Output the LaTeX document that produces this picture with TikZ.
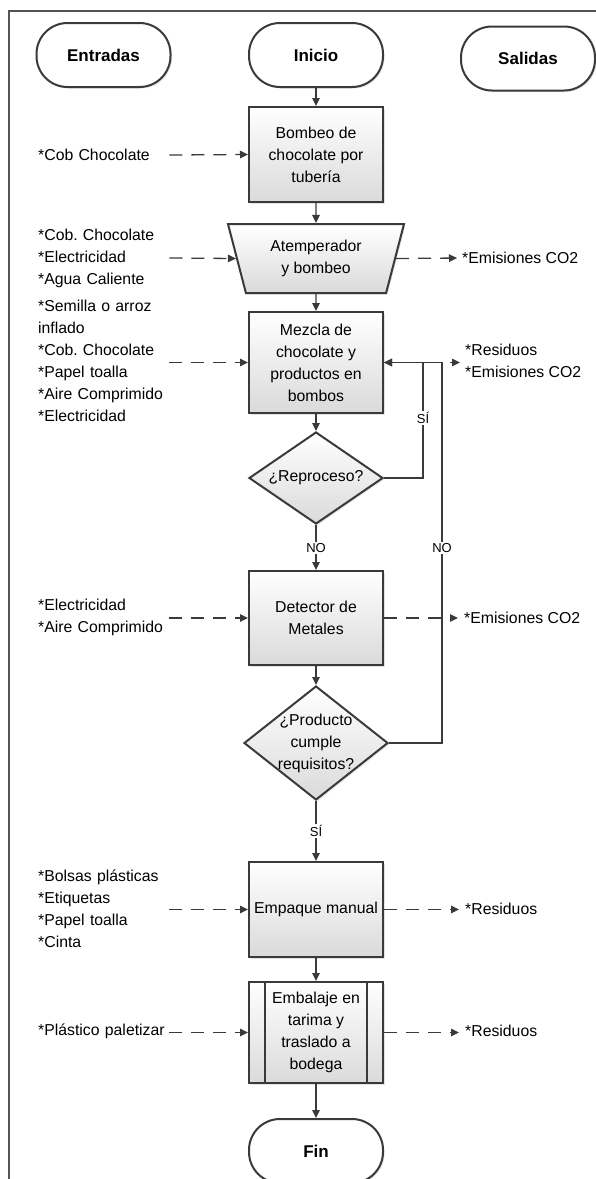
\documentclass[tikz,border=0pt]{standalone}
\usepackage{fontspec}
\setmainfont{Liberation Sans}
\usetikzlibrary{arrows.meta,shapes.geometric,shadows}
\frenchspacing

\definecolor{ink}{HTML}{3A3A3A}
\definecolor{boxbot}{HTML}{DADADA}
\definecolor{framegray}{HTML}{555555}

\tikzset{
  x=1pt, y=-1pt,
  txt/.style={font=\fontsize{15.8}{22}\selectfont},
  shad/.style={drop shadow={opacity=0.22, shadow xshift=1.5pt, shadow yshift=-1.5pt}},
  term/.style={draw=ink, line width=2pt, fill=white, rounded corners=31pt,
    minimum width=134pt, minimum height=64pt, inner sep=0pt,
    font=\bfseries\fontsize{17}{20}\selectfont, shad},
  proc/.style={draw=ink, line width=2pt, top color=white, bottom color=boxbot,
    minimum width=134pt, align=center, txt, inner sep=0pt, shad},
  trap/.style={trapezium, shape border rotate=180, trapezium left angle=64,
    trapezium right angle=64, trapezium stretches body, draw=ink, line width=2pt,
    top color=white, bottom color=boxbot, minimum width=176pt, minimum height=69pt,
    align=center, txt, inner sep=0pt, shad},
  dec/.style={diamond, draw=ink, line width=2pt, top color=white, bottom color=boxbot,
    inner sep=0pt, txt, shad},
  inp/.style={txt, anchor=west, inner sep=0pt, text width=131pt, align=left},
  outp/.style={txt, anchor=west, inner sep=0pt, align=left},
  lbl/.style={font=\fontsize{13}{15}\selectfont, fill=white, inner sep=1.5pt},
  flow/.style={draw=ink, line width=1.3pt, -{Triangle[length=8pt, width=7.5pt]}},
  dflow/.style={flow, dash pattern=on 13pt off 9pt},
}

\begin{document}
\begin{tikzpicture}
\useasboundingbox (0,0) rectangle (595,1179);

% outer frame (only top and left sides)
\draw[framegray, line width=2.2pt] (9,1185) -- (9,11) -- (600,11);

% column headers and start / end
\node[term] (entradas) at (103.5,55) {Entradas};
\node[term] (inicio)   at (316,55)   {Inicio};
\node[term] (salidas)  at (528,58.5) {Salidas};

% process steps
\node[proc, minimum height=95pt]  (bombeo)  at (316,154.5) {Bombeo de\\chocolate por\\tubería};
\node[trap]                       (atemp)   at (316,258.5) {Atemperador\\y bombeo};
\node[proc, minimum height=101pt] (mezcla)  at (316,362.5) {Mezcla de\\chocolate y\\productos en\\bombos};
\node[dec, minimum width=134pt, minimum height=92pt] (rep) at (316,478)
  {\makebox[0pt]{¿Reproceso?}};
\node[proc, minimum height=94pt]  (det)     at (316,618) {Detector de\\Metales};
\node[dec, minimum width=144pt, minimum height=114pt] (prod) at (316,743)
  {\makebox[0pt]{\begin{tabular}{@{}c@{}}¿Producto\\cumple\\requisitos?\end{tabular}}};
\node[proc, minimum height=95pt]  (emp)     at (316,909.5) {Empaque manual};
\node[proc, minimum height=101pt] (emb)     at (316,1032.5) {Embalaje en\\tarima y\\traslado a\\bodega};
\draw[ink, line width=2pt] ([xshift=17pt]emb.north west) -- ([xshift=17pt]emb.south west);
\draw[ink, line width=2pt] ([xshift=-17pt]emb.north east) -- ([xshift=-17pt]emb.south east);
\node[term] (fin) at (316,1151) {Fin};

% inputs
\node[inp] (in1) at (38,155)   {*Cob Chocolate};
\node[inp] (in2) at (38,258)   {*Cob. Chocolate\\{}*Electricidad\\{}*Agua Caliente};
\node[inp] (in3) at (38,361)   {*Semilla o arroz\\inflado\\{}*Cob. Chocolate\\{}*Papel toalla\\{}*Aire Comprimido\\{}*Electricidad};
\node[inp] (in4) at (38,617)   {*Electricidad\\{}*Aire Comprimido};
\node[inp] (in5) at (38,909)   {*Bolsas plásticas\\{}*Etiquetas\\{}*Papel toalla\\{}*Cinta};
\node[inp] (in6) at (38,1031)  {*Plástico paletizar};

% outputs
\node[outp] (out2) at (462,258)  {*Emisiones CO2};
\node[outp] (out3) at (465,361)  {*Residuos\\{}*Emisiones CO2};
\node[outp] (out4) at (464,618)  {*Emisiones CO2};
\node[outp] (out5) at (465,909)  {*Residuos};
\node[outp] (out6) at (465,1031) {*Residuos};

% dashed input / output connectors
\draw[dflow] (in1.east) -- (bombeo.west);
\draw[dflow] (in2.east) -- (atemp.west);
\draw[dflow] (in3.east |- mezcla.west) -- (mezcla.west);
\draw[dflow] (in4.east |- det.west) -- (det.west);
\draw[dflow] (in5.east |- emp.west) -- (emp.west);
\draw[dflow] (in6.east |- emb.west) -- (emb.west);

\draw[dflow, shorten >=5pt] (atemp.east) -- (out2.west);
\draw[dflow, shorten >=5pt] (mezcla.east) -- (mezcla.east -| out3.west);
\draw[dflow, shorten >=6pt] (det.east) -- (det.east -| out4.west);
\draw[dflow, shorten >=6pt] (emp.east) -- (emp.east -| out5.west);
\draw[dflow, shorten >=6pt] (emb.east) -- (emb.east -| out6.west);

% main flow
\draw[flow] (inicio.south) -- (bombeo.north);
\draw[flow] (bombeo.south) -- (atemp.north);
\draw[flow] (atemp.south)  -- (mezcla.north);
\draw[flow] (mezcla.south) -- (rep.north);
\draw[flow] (rep.south)    -- (det.north);
\draw[flow] (det.south)    -- (prod.north);
\draw[flow] (prod.south)   -- (emp.north);
\draw[flow] (emp.south)    -- (emb.north);
\draw[flow] (emb.south)    -- (fin.north);

% return loops
\coordinate (loopsi) at (423,362.5);
\coordinate (loopno) at (442,362.5);
\draw[flow] (rep.east)  -| (loopsi) -- (mezcla.east);
\draw[flow] (prod.east) -| (loopno) -- (mezcla.east);

% branch labels
\node[lbl] (lsi1) at (423,418) {SÍ};
\node[lbl] (lno1) at (316,548) {NO};
\node[lbl] (lno2) at (442,548) {NO};
\node[lbl] (lsi2) at (316,831) {SÍ};
\end{tikzpicture}
\end{document}
